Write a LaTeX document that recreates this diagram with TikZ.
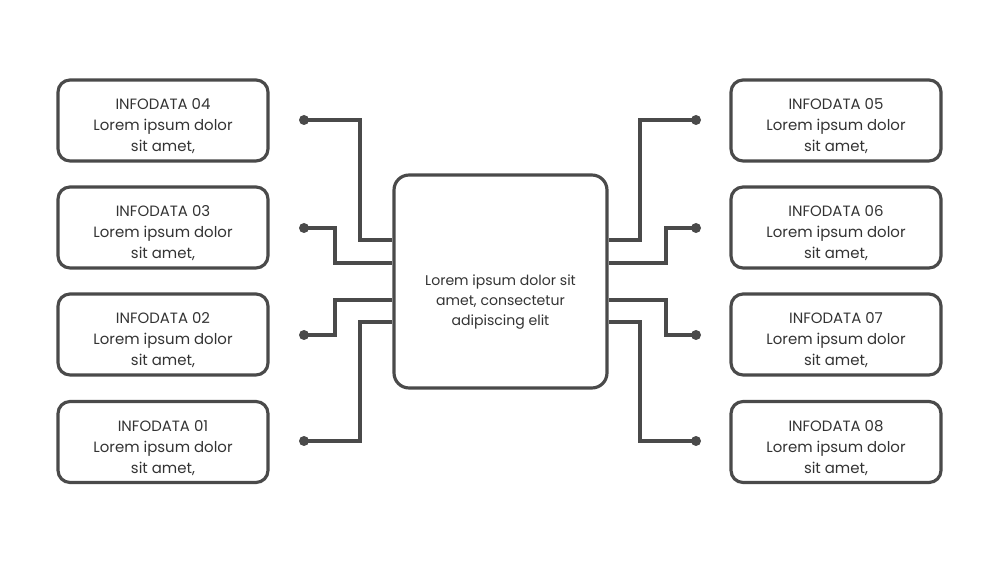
\documentclass[tikz,border=0pt]{standalone}
\usepackage{fontspec}
\setmainfont{Poppins}
\definecolor{ink}{HTML}{4A4A4A}
\definecolor{txt}{HTML}{333333}
\newcommand{\boxtext}[2]{\raisebox{#1}[0pt][0pt]{\begin{tabular}{@{}c@{}}#2\end{tabular}}}
\begin{document}
\begin{tikzpicture}[x=0.02cm,y=-0.02cm,
  infobox/.style={draw=ink,line width=1.8pt,rounded corners=0.24cm,fill=white,
    minimum width=4.2cm,minimum height=1.62cm,text=txt,
    font=\fontsize{8.5}{12}\selectfont,inner sep=0pt},
  centerbox/.style={draw=ink,line width=1.8pt,rounded corners=0.3cm,fill=white,
    minimum width=4.26cm,minimum height=4.26cm,text=txt,
    font=\fontsize{8}{11.5}\selectfont,inner sep=0pt},
  dot/.style={circle,fill=ink,minimum size=0.2cm,inner sep=0pt},
  wire/.style={draw=ink,line width=1.8pt}]
\useasboundingbox (0,0) rectangle (1000,563);
\fill[white] (0,0) rectangle (1000,563);
% left boxes
\node[infobox] (b4) at (163,120.5) {\boxtext{-0.19cm}{INFODATA 04\\Lorem ipsum dolor\\sit amet,}};
\node[infobox] (b3) at (163,227.5) {\boxtext{-0.19cm}{INFODATA 03\\Lorem ipsum dolor\\sit amet,}};
\node[infobox] (b2) at (163,334.5) {\boxtext{-0.19cm}{INFODATA 02\\Lorem ipsum dolor\\sit amet,}};
\node[infobox] (b1) at (163,442) {\boxtext{-0.19cm}{INFODATA 01\\Lorem ipsum dolor\\sit amet,}};
% right boxes
\node[infobox] (b5) at (836,120.5) {\boxtext{-0.19cm}{INFODATA 05\\Lorem ipsum dolor\\sit amet,}};
\node[infobox] (b6) at (836,227.5) {\boxtext{-0.19cm}{INFODATA 06\\Lorem ipsum dolor\\sit amet,}};
\node[infobox] (b7) at (836,334.5) {\boxtext{-0.19cm}{INFODATA 07\\Lorem ipsum dolor\\sit amet,}};
\node[infobox] (b8) at (836,442) {\boxtext{-0.19cm}{INFODATA 08\\Lorem ipsum dolor\\sit amet,}};
% center
\node[centerbox] (c) at (500.5,281.5) {\boxtext{-0.47cm}{Lorem ipsum dolor sit\\amet, consectetur\\adipiscing elit}};
% dots
\node[dot] (d4) at (304,120) {};
\node[dot] (d3) at (304,228) {};
\node[dot] (d2) at (304,335) {};
\node[dot] (d1) at (304,441) {};
\node[dot] (d5) at (696,120) {};
\node[dot] (d6) at (696,228) {};
\node[dot] (d7) at (696,335) {};
\node[dot] (d8) at (696,441) {};
% junction coordinates
\coordinate (j4) at (360,240);
\coordinate (j3) at (335,263);
\coordinate (j2) at (335,300);
\coordinate (j1) at (360,322);
\coordinate (j5) at (640,240);
\coordinate (j6) at (666,263);
\coordinate (j7) at (666,300);
\coordinate (j8) at (640,322);
% wires
\draw[wire] (d4.center) -| (j4) -- (c.west |- j4);
\draw[wire] (d3.center) -| (j3) -- (c.west |- j3);
\draw[wire] (d2.center) -| (j2) -- (c.west |- j2);
\draw[wire] (d1.center) -| (j1) -- (c.west |- j1);
\draw[wire] (d5.center) -| (j5) -- (c.east |- j5);
\draw[wire] (d6.center) -| (j6) -- (c.east |- j6);
\draw[wire] (d7.center) -| (j7) -- (c.east |- j7);
\draw[wire] (d8.center) -| (j8) -- (c.east |- j8);
\end{tikzpicture}
\end{document}
